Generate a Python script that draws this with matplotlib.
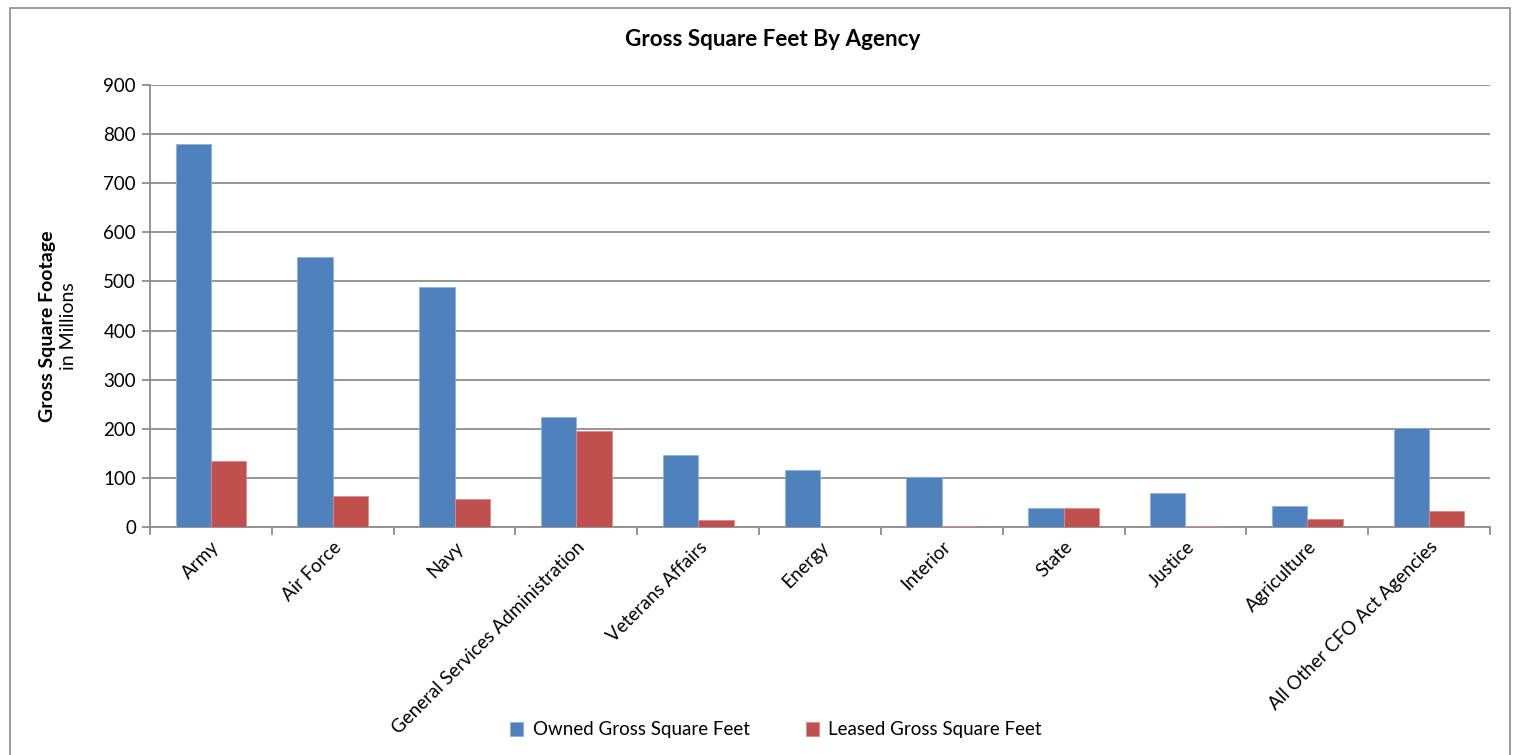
import matplotlib.pyplot as plt
import numpy as np
from matplotlib.patches import Rectangle

plt.rcParams['font.family'] = ['Lato', 'DejaVu Sans']

agencies = ["Army", "Air Force", "Navy", "General Services Administration",
            "Veterans Affairs", "Energy", "Interior", "State", "Justice",
            "Agriculture", "All Other CFO Act Agencies"]
owned = [780, 550, 489, 224, 147, 116, 102, 39, 69, 42, 201]
leased = [134, 63, 57, 195, 14, 1, 3, 38, 2, 16, 32]

blue = "#4F81BD"
red = "#C0504D"
grid_gray = "#8C8C8C"

fig = plt.figure(figsize=(15.18, 7.55), dpi=100)
ax = fig.add_axes([150 / 1518, 1 - 527 / 755, 1340 / 1518, 442 / 755])

x = np.arange(len(agencies))
w = 0.29
ax.bar(x - w / 2, owned, w, color=blue, edgecolor="#8EB0DC", linewidth=0.6,
       label="Owned Gross Square Feet", zorder=3)
ax.bar(x + w / 2, leased, w, color=red, edgecolor="#D98C8A", linewidth=0.6,
       label="Leased Gross Square Feet", zorder=3)

ax.set_xlim(-0.5, len(agencies) - 0.5)
ax.set_ylim(0, 900)
ax.set_yticks(np.arange(0, 901, 100))
ax.yaxis.grid(True, color=grid_gray, linewidth=1.3, zorder=0)
ax.set_axisbelow(True)

# category labels at centers, tick marks at boundaries
ax.set_xticks(x)
ax.set_xticklabels(agencies, rotation=45, ha="right", rotation_mode="anchor",
                   fontsize=13.5)
ax.tick_params(axis="x", length=0, pad=8)
ax.set_xticks(np.arange(-0.5, len(agencies), 1), minor=True)
ax.tick_params(axis="x", which="minor", length=6, color=grid_gray, width=1.3)
ax.tick_params(axis="y", length=6, color=grid_gray, width=1.3, labelsize=13.5,
               pad=4)

for s in ["top", "right"]:
    ax.spines[s].set_visible(False)
for s in ["left", "bottom"]:
    ax.spines[s].set_color(grid_gray)
    ax.spines[s].set_linewidth(1.3)

fig.text(773 / 1518, 1 - 40 / 755, "Gross Square Feet By Agency",
         ha="center", va="center", fontsize=16.2, fontweight="bold")
fig.text(48 / 1518, 1 - 326 / 755, "Gross Square Footage", rotation=90,
         ha="center", va="center", fontsize=14, fontweight="bold")
fig.text(68 / 1518, 1 - 326 / 755, "in Millions", rotation=90,
         ha="center", va="center", fontsize=14)

fig.legend(loc="center", bbox_to_anchor=(776 / 1518, 1 - 730 / 755), ncol=2,
           frameon=False, fontsize=13.5, handlelength=0.7, handleheight=0.7,
           columnspacing=3.0, handletextpad=0.5)

fig.patches.append(Rectangle((10 / 1518, -0.05), 1500 / 1518, 1.04,
                             transform=fig.transFigure, fill=False,
                             edgecolor="#8C8C8C", linewidth=1.2))

fig.savefig("out.png", dpi=100)
